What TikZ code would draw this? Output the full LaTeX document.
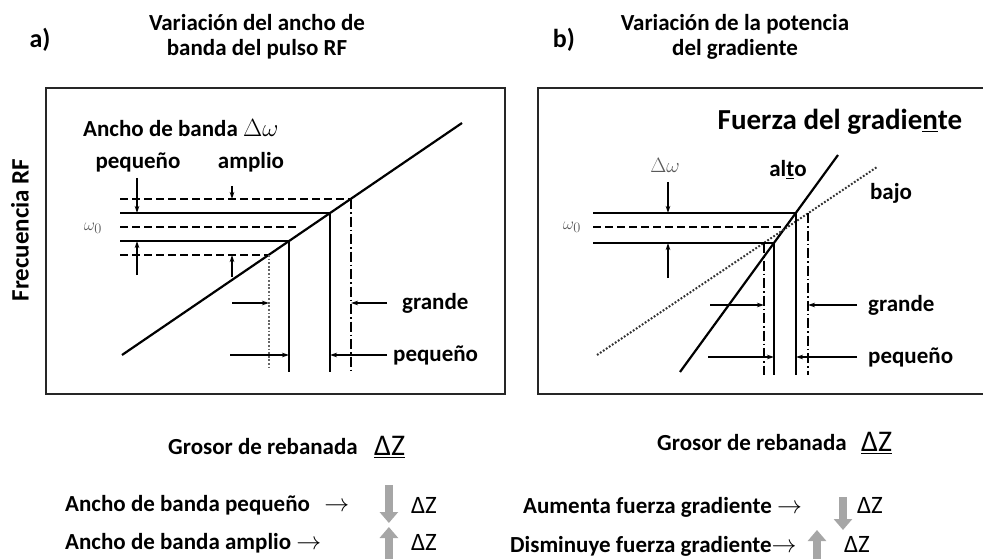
\documentclass[tikz,border=0pt]{standalone}
\usepackage[no-math]{fontspec}
\setmainfont{Carlito}
\usepackage{tikz}
\usetikzlibrary{arrows,arrows.meta,positioning,calc}

\tikzset{
  txt/.style={font=\bfseries\fontsize{23}{25}\selectfont, inner sep=0pt},
  big/.style={font=\bfseries\fontsize{26}{28}\selectfont, inner sep=0pt},
  dz/.style={font=\fontsize{25}{27}\selectfont, inner sep=0pt},
  dzl/.style={font=\fontsize{30}{32}\selectfont, inner sep=0pt},
  sym/.style={font=\fontsize{19}{21}\selectfont, inner sep=0pt, text=black!65},
  frame/.style={line width=2.6pt, black!85},
  ramp/.style={line width=2.2pt},
  band/.style={line width=1.8pt},
  dsh/.style={dash pattern=on 8pt off 4pt},
  dshdot/.style={dash pattern=on 10pt off 3pt on 1.5pt off 3pt},
  dots/.style={dash pattern=on 1.8pt off 1.8pt},
  tick/.style={line width=1.1pt, -{Stealth[length=7pt,width=4.5pt]}},
  bigarrow/.style={line width=8pt, black!35, -{Triangle[length=11pt,width=18pt]}},
}

\begin{document}
\begin{tikzpicture}[x=1pt,y=-1pt]
\useasboundingbox (0,0) rectangle (983,559);

% titles
\node[big] (ta) at (40,40) {a)};
\node[txt,align=center] (tia) at (257,37) {Variación del ancho de\\banda del pulso RF};
\node[big] (tb) at (564,40) {b)};
\node[txt,align=center] (tib) at (735,37) {Variación de la potencia\\del gradiente};

% frames
\draw[frame] (46,88) rectangle (505,394);
\draw[frame] (538,88) rectangle (1000,394);
\node[txt,font=\bfseries\fontsize{25}{27}\selectfont,rotate=90] (yax) at (20,230) {Frecuencia RF};

% ---- a) ancho de banda
\coordinate (a0) at (122,355);
\coordinate (a1) at (462,123);
\coordinate (aDt) at (351,199);
\coordinate (aSt) at (330,213);
\coordinate (aSb) at (289,241);
\coordinate (aDb) at (269,255);
\coordinate (aL) at (120,0);
\coordinate (aBase) at (0,372);
\coordinate (aBaseD) at (0,367);
\draw[ramp] (a0) -- (a1);
\draw[band,dsh] (aL |- aDt) -- (aDt);
\draw[band] (aL |- aSt) -- (aSt);
\draw[band,dsh] (120,227) -- (297,227);
\draw[band] (aL |- aSb) -- (aSb);
\draw[band,dsh] (aL |- aDb) -- (aDb);
\draw[line width=1.2pt,black!60,dots] (aDb) -- (aDb |- aBaseD);
\draw[band] (aSb) -- (aSb |- aBase);
\draw[band] (aSt) -- (aSt |- aBase);
\draw[band,dshdot] (aDt) -- (aDt |- aBase);

\node[sym] (w0a) at (93,228) {$\omega_0$};
\node[txt,anchor=west] (bwA) at (83,128) {Ancho de banda {\fontsize{28}{30}\selectfont$\Delta\omega$}};
\node[txt] (pA) at (138,162) {pequeño};
\node[txt] (amA) at (251,162) {amplio};
\draw[tick] (137,178) -- (137,213);
\draw[tick] (137,275) -- (137,241);
\draw[tick] (232,186) -- (232,199);
\draw[tick] (232,277) -- (232,255);

\node[txt,anchor=west] (gA) at (402,303) {grande};
\node[txt,anchor=west] (qA) at (393,355) {pequeño};
\draw[tick] (232,303) -- (aDb |- gA.west);
\draw[tick] ([xshift=-15pt]gA.west) -- (aDt |- gA.west);
\draw[tick] (230,355) -- (aSb |- qA.west);
\draw[tick] ([xshift=-6pt]qA.west) -- (aSt |- qA.west);

% ---- b) fuerza del gradiente
\coordinate (b0) at (680,372);
\coordinate (b1) at (838,155);
\coordinate (c0) at (597,355);
\coordinate (c1) at (877,167);
\coordinate (bSt) at (796,213);
\coordinate (bSb) at (774,243);
\coordinate (cSt) at (808,213);
\coordinate (cSb) at (764,243);
\coordinate (bL) at (593,0);
\coordinate (bBase) at (0,375);
\draw[ramp] (b0) -- (b1);
\draw[line width=2pt,black!80,dots] (c0) -- (c1);
\draw[band] (bL |- bSt) -- (bSt);
\draw[band,dsh] (593,227) -- (786,227);
\draw[band] (bL |- bSb) -- (bSb);
\draw[band] (bSb) -- (bSb |- bBase);
\draw[band] (bSt) -- (bSt |- bBase);
\draw[line width=1.3pt,dshdot] (cSb) -- (cSb |- bBase);
\draw[band,dshdot] (cSt) -- (cSt |- bBase);

\node[sym] (w0b) at (572,227) {$\omega_0$};
\node[sym,font=\fontsize{21}{23}\selectfont] (dwB) at (665,165) {$\Delta\omega$};
\draw[tick] (668,182) -- (668,213);
\draw[tick] (668,278) -- (668,243);
\node[txt,font=\bfseries\fontsize{29}{31}\selectfont] (fgB) at (840,122) {Fuerza del gradie\underline{n}te};
\node[txt] (alB) at (788,170) {al\underline{t}o};
\node[txt] (bjB) at (891,193) {bajo};

\node[txt,anchor=west] (gB) at (868,305) {grande};
\node[txt,anchor=west] (qB) at (868,357) {pequeño};
\draw[tick] (710,305) -- (cSb |- gB.west);
\draw[tick] ([xshift=-11pt]gB.west) -- (cSt |- gB.west);
\draw[tick] (708,357) -- (bSb |- qB.west);
\draw[tick] ([xshift=-11pt]qB.west) -- (bSt |- qB.west);

% ---- grosor de rebanada
\node[txt] (grA) at (263,447) {Grosor de rebanada};
\node[dzl,right=16pt of grA] (dzA) {\underline{ΔZ}};
\node[txt,anchor=west] (nbA) at (65,505) {Ancho de banda pequeño\hspace{0.4em} $\rightarrow$};
\node[txt,anchor=west] (wbA) at (65,543) {Ancho de banda amplio $\rightarrow$};
\node[dz] (dzA1) at (424,505) {ΔZ};
\node[dz] (dzA2) at (424,542) {ΔZ};
\draw[bigarrow] ($(dzA1.west)+(-22,-20)$) -- ($(dzA1.west)+(-22,18)$);
\draw[bigarrow] ($(dzA2.west)+(-22,23)$) -- ($(dzA2.west)+(-22,-15)$);

\node[txt] (grB) at (752,443) {Grosor de rebanada};
\node[dzl,right=14pt of grB] (dzB) {\underline{ΔZ}};
\node[txt,anchor=west] (afB) at (523,507) {Aumenta fuerza gradiente $\rightarrow$};
\node[txt,anchor=west] (dfB) at (510,546) {Disminuye fuerza gradiente$\rightarrow$};
\node[dz] (dzB1) at (870,505) {ΔZ};
\node[dz] (dzB2) at (857,544) {ΔZ};
\draw[bigarrow] (843,497) -- (843,530);
\draw[bigarrow] (817,565) -- (817,530);
\end{tikzpicture}
\end{document}
